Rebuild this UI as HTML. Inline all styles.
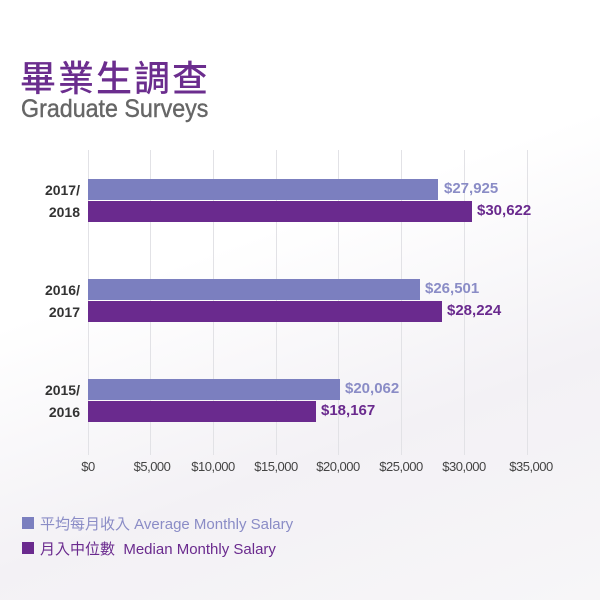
<!DOCTYPE html>
<html><head><meta charset="utf-8"><style>
body{margin:0;width:600px;height:600px;overflow:hidden;background:linear-gradient(160deg,#fff 40%,#f3f1f5 70%,#f7f6f8);font-family:"Liberation Sans","Noto Sans CJK TC",sans-serif;position:relative}
.a{position:absolute}
.g{position:absolute;top:150px;height:305px;width:1px;background:#e2e2e6}
.b1{position:absolute;left:88px;height:21px;background:#7b7fbf}
.b2{position:absolute;left:88px;height:21px;background:#6a2a8e}
.y{position:absolute;left:30px;width:50px;text-align:right;font-weight:bold;font-size:14px;color:#333;line-height:22px}
.v1{position:absolute;font-weight:bold;font-size:15px;color:#8a8cc6}
.v2{position:absolute;font-weight:bold;font-size:15px;color:#6a2a8e}
.t{position:absolute;top:459px;font-size:13px;color:#444;transform:translateX(-50%);letter-spacing:-0.5px}
</style></head><body>
<div class="a" style="left:20px;top:58px;font-size:36px;line-height:36px;letter-spacing:2px;color:#6b2d8e;font-family:'Noto Sans CJK TC',sans-serif;font-weight:500">畢業生調查</div>
<div class="a" style="left:21px;top:95px;font-size:25px;color:#666;transform:scaleX(0.93);transform-origin:left;-webkit-text-stroke:0.4px #666">Graduate Surveys</div>
<div class="g" style="left:88px"></div><div class="g" style="left:150px"></div><div class="g" style="left:213px"></div><div class="g" style="left:276px"></div><div class="g" style="left:338px"></div><div class="g" style="left:401px"></div><div class="g" style="left:464px"></div><div class="g" style="left:527px"></div>
<div class="b1" style="top:179px;width:350px"></div><div class="b2" style="top:201px;width:384px"></div>
<div class="b1" style="top:279px;width:332px"></div><div class="b2" style="top:301px;width:354px"></div>
<div class="b1" style="top:379px;width:252px"></div><div class="b2" style="top:401px;width:228px"></div>
<div class="y" style="top:179px">2017/<br>2018</div>
<div class="y" style="top:279px">2016/<br>2017</div>
<div class="y" style="top:379px">2015/<br>2016</div>
<div class="v1" style="left:444px;top:180px">$27,925</div><div class="v2" style="left:477px;top:202px">$30,622</div>
<div class="v1" style="left:425px;top:280px">$26,501</div><div class="v2" style="left:447px;top:302px">$28,224</div>
<div class="v1" style="left:345px;top:380px">$20,062</div><div class="v2" style="left:321px;top:402px">$18,167</div>
<div class="t" style="left:88px">$0</div><div class="t" style="left:152px">$5,000</div><div class="t" style="left:213px">$10,000</div><div class="t" style="left:276px">$15,000</div><div class="t" style="left:338px">$20,000</div><div class="t" style="left:401px">$25,000</div><div class="t" style="left:464px">$30,000</div><div class="t" style="left:531px">$35,000</div>
<div class="a" style="left:22px;top:517px;width:12px;height:12px;background:#7b7fbf"></div>
<div class="a" style="left:40px;top:513px;font-size:15px;color:#8a8cc6">平均每月收入 Average Monthly Salary</div>
<div class="a" style="left:22px;top:542px;width:12px;height:12px;background:#6a2a8e"></div>
<div class="a" style="left:40px;top:538px;font-size:15px;color:#6a2a8e">月入中位數&nbsp; Median Monthly Salary</div>
</body></html>
